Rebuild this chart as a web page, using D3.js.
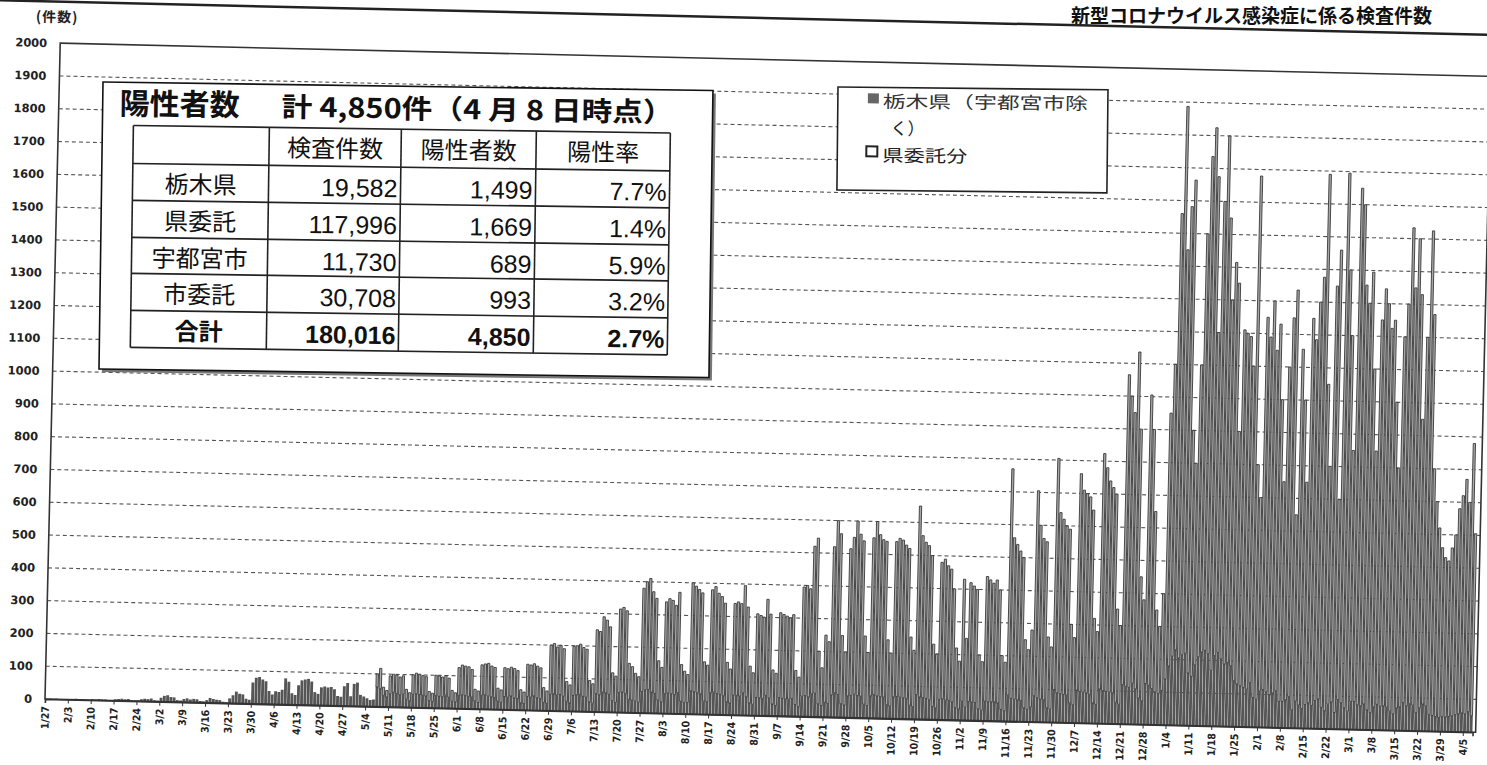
<!DOCTYPE html>
<html><head><meta charset="utf-8">
<script src="https://cdn.jsdelivr.net/npm/d3@7/dist/d3.min.js"></script>
<style>body{margin:0;background:#fff;} svg{display:block;}</style>
</head><body><svg id="c" width="1487" height="765"></svg>
<script>
const chartTitle = "新型コロナウイルス感染症に係る検査件数";
const yUnit = "(件数)";
const startDate = "2020-01-27";
const tickLabels = ["1/27","2/3","2/10","2/17","2/24","3/2","3/9","3/16","3/23","3/30","4/6","4/13","4/20","4/27","5/4","5/11","5/18","5/25","6/1","6/8","6/15","6/22","6/29","7/6","7/13","7/20","7/27","8/3","8/10","8/17","8/24","8/31","9/7","9/14","9/21","9/28","10/5","10/12","10/19","10/26","11/2","11/9","11/16","11/23","11/30","12/7","12/14","12/21","12/28","1/4","1/11","1/18","1/25","2/1","2/8","2/15","2/22","3/1","3/8","3/15","3/22","3/29","4/5"];
const yTicks = [0,100,200,300,400,500,600,700,800,900,1000,1100,1200,1300,1400,1500,1600,1700,1800,1900,2000];
const seriesNames = ["栃木県（宇都宮市除く）","県委託分"];

// daily totals (栃木県 + 県委託分), Monday..Sunday per row
const totalValues = [
0,1,1,2,1,0,0,
2,1,3,2,2,1,0,
3,2,4,3,3,1,1,
4,5,6,5,6,2,2,
3,6,8,7,9,4,3,
12,18,20,15,14,6,5,
10,12,9,11,10,5,4,
8,15,12,10,9,4,3,
15,25,36,30,28,15,12,
65,80,82,75,70,40,30,
40,38,45,80,70,35,30,
60,75,78,80,72,40,35,
55,58,55,57,50,30,28,
60,70,30,68,72,35,30,
25,20,22,100,117,60,50,
95,100,98,92,96,55,45,
100,105,102,98,95,50,45,
100,98,95,100,92,55,48,
125,133,130,128,120,60,55,
135,138,140,132,128,65,60,
128,125,130,126,120,62,55,
140,138,142,135,130,70,60,
200,205,195,200,190,90,80,
198,200,205,195,190,95,85,
250,245,290,280,260,120,110,
315,320,310,150,140,120,110,
380,400,410,370,350,160,140,
340,350,345,330,370,150,130,
120,400,390,380,370,160,150,
380,390,370,360,340,160,140,
340,345,340,395,330,150,130,
310,305,300,355,310,140,130,
315,310,305,300,310,140,120,
395,400,390,520,545,200,150,
250,230,520,600,560,250,200,
515,550,600,560,540,250,200,
550,600,560,545,540,240,200,
540,550,545,530,520,250,210,
650,560,540,530,500,230,200,
480,490,470,460,400,220,180,
430,250,420,410,400,200,180,
440,430,420,430,400,200,180,
770,560,540,520,500,250,220,
280,705,600,560,550,260,230,
805,640,620,600,590,300,260,
760,710,700,690,650,320,280,
823,780,740,720,700,350,300,
1065,1000,950,1135,900,450,380,
1005,900,650,350,300,400,951,
1100,1560,1887,1450,1582,1663,900,
800,1100,1500,1736,1824,1675,1200,
1600,1800,1550,1300,1415,1352,900,
1210,1200,1190,1100,1680,800,700,
1250,1190,1300,1150,1230,1000,750,
1100,1250,1335,650,1155,1000,750,
1250,1185,1300,1376,1690,1050,800,
1350,1460,700,1695,1400,1200,850,
1650,1600,1355,1300,1395,1100,850,
1250,1345,1300,1225,1250,1000,800,
1200,1300,1533,1350,1500,1330,950,
1200,1525,1270,800,700,620,560,
530,520,560,600,680,720,770,
700,880,605
];

// 栃木県（宇都宮市除く） daily values
const kenValues = [
0,1,1,2,1,0,0,
2,1,3,2,2,1,0,
3,2,4,3,3,1,1,
4,5,6,5,6,2,2,
3,6,8,7,9,4,3,
12,18,20,15,14,6,5,
10,12,9,11,10,5,4,
8,15,12,10,9,4,3,
15,25,36,30,28,15,12,
65,80,82,75,70,40,30,
40,38,45,80,70,35,30,
60,75,78,80,72,40,35,
55,58,55,57,50,30,28,
60,70,30,68,72,35,30,
25,20,22,60,55,35,30,
40,45,42,38,40,25,20,
40,42,40,38,36,22,20,
38,36,35,40,34,22,20,
40,42,40,38,36,24,20,
42,44,40,38,36,25,22,
40,38,42,36,35,22,20,
42,40,44,38,36,25,22,
50,52,48,50,45,30,25,
48,50,52,46,44,30,26,
55,52,60,58,54,35,30,
60,62,58,40,38,35,32,
65,70,72,64,60,40,35,
60,62,60,58,64,38,34,
35,70,68,65,62,40,38,
66,68,64,62,58,40,36,
60,60,58,68,56,38,34,
55,54,52,62,54,36,32,
56,54,52,52,54,36,30,
62,64,60,70,72,40,35,
45,42,68,75,70,42,38,
66,68,72,68,66,42,38,
68,72,68,66,65,42,38,
66,68,66,64,62,42,38,
75,68,66,64,60,40,36,
62,64,60,60,55,38,34,
58,40,58,56,55,36,32,
60,58,58,58,55,36,32,
80,70,68,66,64,42,38,
45,80,74,70,68,44,40,
100,90,88,86,84,60,55,
100,96,94,92,88,62,58,
105,100,98,96,94,66,60,
120,115,112,125,108,80,72,
125,120,110,100,95,105,140,
180,210,230,205,215,220,160,
150,185,210,225,230,220,170,
215,225,205,190,195,185,140,
130,125,120,115,135,90,85,
110,115,108,100,105,112,80,
80,85,95,55,82,70,60,
72,78,70,85,90,65,55,
75,82,50,90,80,65,55,
85,85,75,72,78,60,52,
70,78,72,74,70,58,50,
68,72,85,75,82,78,55,
70,82,76,50,48,45,42,
45,44,46,48,52,55,58,
55,62,50
];

const tableTitleA = "陽性者数";
const tableTitleB = "計 4,850件（4 月 8 日時点）";
const tableHeader = ["", "検査件数", "陽性者数", "陽性率"];
const tableRowNames = ["栃木県","県委託","宇都宮市","市委託","合計"];
const tableTests = ["19,582","117,996","11,730","30,708","180,016"];
const tablePositives = ["1,499","1,669","689","993","4,850"];
const tableRates = ["7.7%","1.4%","5.9%","3.2%","2.7%"];

const svg = d3.select("#c");
const n = totalValues.length;
const X0 = 45, X1 = 1473, XR = 1476, Y0 = 699, Y1 = 43;
const x = d3.scaleLinear().domain([0, n]).range([X0, X1]);
const y = d3.scaleLinear().domain([0, 2000]).range([Y0, Y1]);
const step = x(1) - x(0);
const jp = "'Noto Sans CJK JP', sans-serif";

svg.append("rect").attr("width",1487).attr("height",765).attr("fill","#fff");

// title, kept fully inside the page above its rule
svg.append("text").attr("x", 1432).attr("y", 23).attr("text-anchor","end")
  .attr("font-family", jp).attr("font-weight","bold").attr("font-size",19)
  .attr("fill","#111").text(chartTitle);

const g = svg.append("g").attr("transform", `rotate(1.33 ${X0} ${Y0})`);

g.append("line").attr("x1",-80).attr("x2",1560).attr("y1",1.5).attr("y2",1.5)
  .attr("stroke","#222").attr("stroke-width",2.5);

// unit label
g.append("text").attr("x",20).attr("y",22).attr("font-family",jp).attr("font-weight","bold")
  .attr("font-size",14).attr("letter-spacing",1).attr("fill","#222").text(yUnit);

// gridlines
g.append("g").selectAll("line").data(yTicks.filter(v => v > 0 && v < 2000)).join("line")
  .attr("x1", X0).attr("x2", XR).attr("y1", d => y(d)).attr("y2", d => y(d))
  .attr("stroke","#555").attr("stroke-width",1.1).attr("stroke-dasharray","4,3");

// bars
const days = d3.range(n);
const bars = g.append("g");
bars.selectAll("rect.ken").data(days).join("rect").attr("class","ken")
  .attr("x", i => x(i) + 0.2).attr("width", step - 0.4)
  .attr("y", i => y(kenValues[i])).attr("height", i => y(0) - y(kenValues[i]))
  .attr("fill","#555");
bars.selectAll("rect.itaku").data(days.filter(i => totalValues[i] > kenValues[i])).join("rect").attr("class","itaku")
  .attr("x", i => x(i) + 0.5).attr("width", step - 1.0)
  .attr("y", i => y(totalValues[i])).attr("height", i => y(kenValues[i]) - y(totalValues[i]))
  .attr("fill","#a8a8a8").attr("stroke","#3a3a3a").attr("stroke-width",0.9);

// frame
g.append("rect").attr("x",X0).attr("y",Y1).attr("width",XR-X0).attr("height",Y0-Y1)
  .attr("fill","none").attr("stroke","#333").attr("stroke-width",1.6);

// y axis
const ya = g.append("g").attr("transform",`translate(${X0},0)`)
  .call(d3.axisLeft(y).tickValues(yTicks).tickSize(0).tickPadding(13).tickFormat(d3.format("d")));
ya.select(".domain").remove();
ya.selectAll("text").attr("font-family","'DejaVu Sans', sans-serif").attr("font-weight","bold")
  .attr("font-size",11.5).attr("fill","#222");

// x axis
const xa = g.append("g").attr("transform",`translate(0,${Y0})`)
  .call(d3.axisBottom(x).tickValues(d3.range(0, n, 7)).tickSize(4).tickFormat((d,i) => tickLabels[i]));
xa.select(".domain").attr("stroke","#333").attr("stroke-width",1.6);
xa.selectAll(".tick line").attr("stroke","#333");
xa.selectAll("text").attr("transform","rotate(-90)").attr("x",-7).attr("y",0).attr("dy","0.35em")
  .style("text-anchor","end").attr("font-family","'DejaVu Sans Condensed','Liberation Sans Narrow',sans-serif")
  .attr("font-weight","bold").attr("font-size",10.5).attr("fill","#222");

// legend
const lg = svg.append("g").attr("transform","translate(838,87) rotate(0.6)");
lg.append("rect").attr("width",270).attr("height",103).attr("fill","#fff").attr("stroke","#222").attr("stroke-width",1.6);
lg.append("rect").attr("x",30).attr("y",6).attr("width",11).attr("height",10).attr("fill","#666");
lg.append("text").attr("x",45).attr("y",20).attr("font-family",jp).attr("font-size",17)
  .attr("textLength",205).attr("lengthAdjust","spacingAndGlyphs").attr("fill","#333").text("栃木県（宇都宮市除");
lg.append("text").attr("x",53).attr("y",47).attr("font-family",jp).attr("font-size",17).attr("fill","#222").text("く）");
lg.append("rect").attr("x",29).attr("y",59).attr("width",11).attr("height",10).attr("fill","#fff").attr("stroke","#222").attr("stroke-width",2);
lg.append("text").attr("x",45).attr("y",74).attr("font-family",jp).attr("font-size",17)
  .attr("textLength",85).attr("lengthAdjust","spacingAndGlyphs").attr("fill","#222").text("県委託分");

// table inset
const tg = svg.append("g").attr("transform","translate(103,82) rotate(0.8)");
tg.append("rect").attr("x",3).attr("y",3).attr("width",610).attr("height",287).attr("fill","#777");
tg.append("rect").attr("width",610).attr("height",287).attr("fill","#fff").attr("stroke","#111").attr("stroke-width",1.6);
tg.append("text").attr("x",17).attr("y",32).attr("font-family",jp).attr("font-weight","bold").attr("font-size",30).attr("fill","#111").text(tableTitleA);
tg.append("text").attr("x",179).attr("y",32).attr("font-family",jp).attr("font-weight","bold").attr("font-size",27)
  .attr("textLength",392).attr("lengthAdjust","spacingAndGlyphs").attr("fill","#111").text(tableTitleB);
const colX = [31,167,299,434,568];
const rowY = [43,81,118,155,191,228,265];
const tl = tg.append("g").attr("stroke","#222").attr("stroke-width",1.6);
rowY.forEach(r => tl.append("line").attr("x1",colX[0]).attr("x2",colX[4]).attr("y1",r).attr("y2",r));
colX.forEach(c => tl.append("line").attr("x1",c).attr("x2",c).attr("y1",rowY[0]).attr("y2",rowY[6]));
tableHeader.forEach((h,j) => {
  if (!h) return;
  tg.append("text").attr("x",(colX[j]+colX[j+1])/2).attr("y",rowY[0]+29).attr("text-anchor","middle")
    .attr("font-family",jp).attr("font-size",24).attr("fill","#111").text(h);
});
const num = "'Liberation Sans', Arial, sans-serif";
tableRowNames.forEach((nm,r) => {
  const base = rowY[r+1] + 29;
  const bold = r === 4 ? "bold" : "normal";
  tg.append("text").attr("x",(colX[0]+colX[1])/2).attr("y",base).attr("text-anchor","middle")
    .attr("font-family",jp).attr("font-size",24).attr("font-weight",bold).attr("fill","#111").text(nm);
  [tableTests[r], tablePositives[r], tableRates[r]].forEach((v,j) => {
    tg.append("text").attr("x",colX[j+2]-3).attr("y",base+1).attr("text-anchor","end")
      .attr("font-family",num).attr("font-size",25).attr("font-weight",bold).attr("fill","#111").text(v);
  });
});
</script></body></html>
